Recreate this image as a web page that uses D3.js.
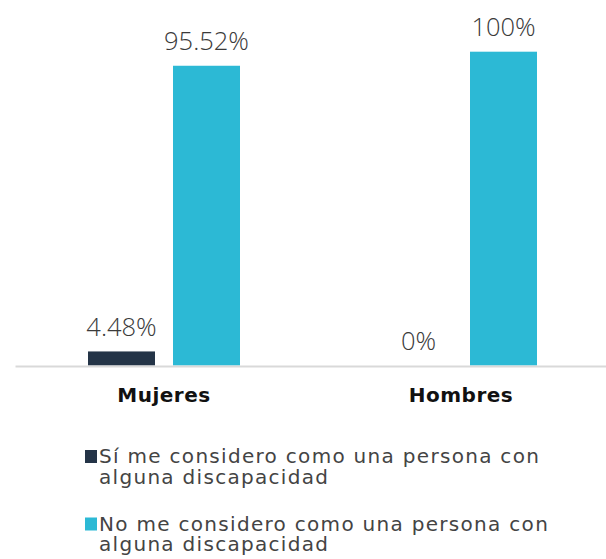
<!DOCTYPE html>
<html>
<head>
<meta charset="utf-8">
<script src="https://cdn.jsdelivr.net/npm/d3@7"></script>
<style>
  body { margin: 0; background: #fff; }
  text { font-family: "Open Sans", "Lato", sans-serif; }
</style>
</head>
<body>
<div id="chart"></div>
<script>
// chart data
var categories = ["Mujeres", "Hombres"];
var seriesNames = [
    ["Sí me considero como una persona con", "alguna discapacidad"],
    ["No me considero como una persona con", "alguna discapacidad"]
];
var siValues = [4.48, 0];
var noValues = [95.52, 100];
var valueLabels = [["4.48%", "0%"], ["95.52%", "100%"]];
var colors = ["#243447", "#2cb9d5"];

var width = 606, height = 559;
var baseline = 365.5;

var svg = d3.select("#chart")
    .append("svg")
    .attr("width", width)
    .attr("height", height);

var x = d3.scaleBand()
    .domain(categories)
    .range([15.5, 609.5]);

// two bars of 67px with an 18px gap, centred in each band
var xInner = d3.scaleBand()
    .domain([0, 1])
    .range([72.5, x.bandwidth() - 72.5])
    .paddingInner(18 / 85);

var y = d3.scaleLinear()
    .domain([0, 100])
    .range([baseline, 51.7]);

var series = [siValues, noValues];

// bars + value labels
series.forEach(function(vals, s) {
    var g = svg.append("g");
    g.selectAll("rect")
        .data(vals)
        .enter().append("rect")
        .attr("x", function(d, i) { return x(categories[i]) + xInner(s); })
        .attr("y", function(d) { return y(d); })
        .attr("width", xInner.bandwidth())
        .attr("height", function(d) { return baseline - y(d); })
        .style("fill", colors[s]);

    g.selectAll("text")
        .data(vals)
        .enter().append("text")
        .attr("x", function(d, i) { return x(categories[i]) + xInner(s) + xInner.bandwidth() / 2; })
        .attr("y", function(d) { return y(d) - 15.5; })
        .attr("text-anchor", "middle")
        .style("font-size", "25.5px")
        .style("font-weight", 300)
        .style("fill", "#3a3a3a")
        .text(function(d, i) { return valueLabels[s][i]; });
});

// axis line
svg.append("line")
    .attr("x1", 15.5).attr("x2", 606)
    .attr("y1", baseline + 1).attr("y2", baseline + 1)
    .style("stroke", "#d9d9d9")
    .style("stroke-width", 2);

// category labels
svg.selectAll(".cat")
    .data(categories)
    .enter().append("text")
    .attr("class", "cat")
    .attr("x", function(d) { return x(d) + x.bandwidth() / 2; })
    .attr("y", 402.3)
    .attr("text-anchor", "middle")
    .style("font-family", "'DejaVu Sans', sans-serif")
    .style("font-size", "20px")
    .style("font-weight", 700)
    .style("letter-spacing", "0.5px")
    .style("fill", "#111")
    .text(function(d) { return d; });

// legend
var legend = svg.selectAll(".legend")
    .data(seriesNames)
    .enter().append("g")
    .attr("class", "legend")
    .attr("transform", function(d, i) { return "translate(85," + (450 + i * 67.5) + ")"; });

legend.append("rect")
    .attr("width", 12)
    .attr("height", 13)
    .style("fill", function(d, i) { return colors[i]; });

legend.append("text")
    .attr("x", 14)
    .attr("y", 13.3)
    .style("font-family", "'DejaVu Sans', sans-serif")
    .style("font-size", "20px")
    .style("font-weight", 400)
    .style("letter-spacing", "1.3px")
    .style("fill", "#444")
    .selectAll("tspan")
    .data(function(d) { return d; })
    .enter().append("tspan")
    .attr("x", 14)
    .attr("dy", function(d, i) { return i === 0 ? 0 : 20.5; })
    .text(function(d) { return d; });
</script>
</body>
</html>
